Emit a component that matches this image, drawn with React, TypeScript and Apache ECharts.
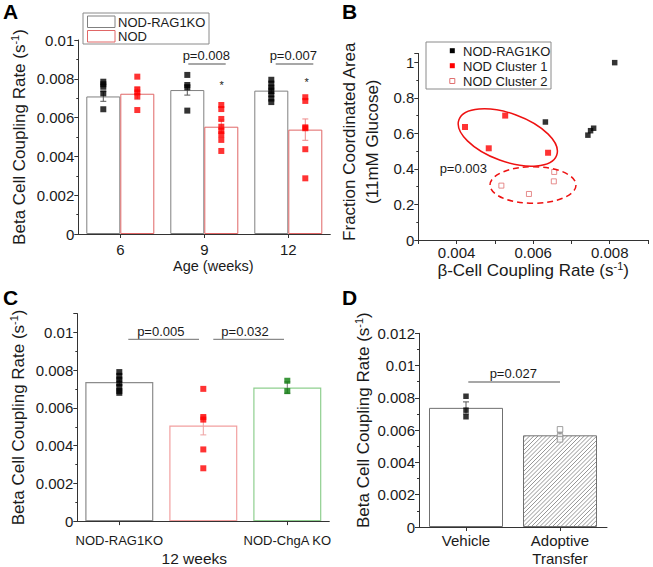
import React, { useEffect, useRef } from 'react';
import * as echarts from 'echarts';

const FONT = '"Liberation Sans", Arial, Helvetica, sans-serif';

// ---------- Panel A ----------
const ageCategories = ['6', '9', '12'];
const ragMeansA = [0.00709, 0.00742, 0.00739];
const ragSemA = [0.00025, 0.00026, 0.00015];
const nodMeansA = [0.00723, 0.00553, 0.00538];
const nodSemA = [0.0003, 0.00035, 0.00055];
const ragPointsA = [
  [0.00785, 0.00772, 0.00759, 0.00725, 0.00643],
  [0.0082, 0.00768, 0.00756, 0.00636],
  [0.00795, 0.00775, 0.00755, 0.00738, 0.0072, 0.00698, 0.0068],
];
const nodPointsA = [
  [0.00811, 0.00746, 0.0073, 0.00711, 0.00639],
  [0.00665, 0.00644, 0.00593, 0.00553, 0.00532, 0.00514, 0.00485, 0.00428],
  [0.00705, 0.00686, 0.0055, 0.00545, 0.00437, 0.00287],
];

// ---------- Panel B ----------
const ragB = [[0.00632, 0.664], [0.00743, 0.59], [0.0075, 0.615], [0.00758, 0.629], [0.00813, 0.998]];
const nodCluster1B = [[0.00422, 0.636], [0.00484, 0.516], [0.00527, 0.7], [0.00639, 0.491]];
const nodCluster2B = [[0.00517, 0.306], [0.00589, 0.259], [0.00655, 0.383], [0.00654, 0.33]];

// ---------- Panel C ----------
const groupsC = ['NOD-RAG1KO', 'NOD', 'NOD-ChgA KO'];
const meansC = [0.00737, 0.00507, 0.00708];
const semC = [0.00015, 0.0005, 0.0003];
const pointsC = [
  [0.0079, 0.0077, 0.0075, 0.0073, 0.0071, 0.0069, 0.0068],
  [0.00701, 0.00552, 0.00538, 0.0038, 0.0028],
  [0.00744, 0.00689],
];

// ---------- Panel D ----------
const groupsD = ['Vehicle', 'Adoptive\nTransfer'];
const meansD = [0.00738, 0.00568];
const semD = [0.00037, 0.00015];
const pointsD = [
  [0.0081, 0.00724, 0.00683],
  [0.00605, 0.0056, 0.00543],
];

const AXIS_COLOR = '#333';
const TEXT_COLOR = '#1a1a1a';

const BAR_W_A = 34;
const BAR_W_C = 68;
const BAR_W_D = 74;

const TICK_FS = 15;
const NAME_FS = 17;
const NOTE_FS = 13;

const cBorders = ['#8c8c8c', '#f2a0a0', '#8fcf8f'];
const cPointColors = ['#000000', '#ff0000', '#0a7d0a'];
const cErrColors = ['#555555', '#eea0a0', '#777777'];

function supName(text: string) {
  return text + '{s|-1})';
}

function nameStyle(extra: any = {}) {
  return {
    fontFamily: FONT,
    fontSize: NAME_FS,
    color: TEXT_COLOR,
    lineHeight: 20,
    rich: {
      s: { fontFamily: FONT, fontSize: 11, color: TEXT_COLOR, verticalAlign: 'top', lineHeight: 9 },
    },
    ...extra,
  };
}

function yAxisBase(gridIndex: number, max: number, interval: number, extra: any = {}) {
  return {
    type: 'value',
    gridIndex,
    min: 0,
    max,
    interval,
    axisLine: { show: true, lineStyle: { color: AXIS_COLOR, width: 1 } },
    axisTick: { show: true, length: 4, lineStyle: { color: AXIS_COLOR } },
    minorTick: { show: true, splitNumber: 2, length: 2, lineStyle: { color: AXIS_COLOR } },
    splitLine: { show: false },
    axisLabel: {
      color: TEXT_COLOR,
      fontFamily: FONT,
      fontSize: TICK_FS,
      margin: 4,
      formatter: (v: number) => {
        const k = v / interval;
        if (Math.abs(k - Math.round(k)) > 1e-6) return '';
        return String(parseFloat(v.toFixed(4)));
      },
    },
    nameLocation: 'middle',
    ...extra,
  };
}

function catAxis(gridIndex: number, data: string[], fontSize: number, margin: number, extra: any = {}) {
  return {
    type: 'category',
    gridIndex,
    data,
    axisLine: { show: true, lineStyle: { color: AXIS_COLOR, width: 1 } },
    axisTick: { show: true, alignWithLabel: true, length: 4, lineStyle: { color: AXIS_COLOR } },
    axisLabel: { color: TEXT_COLOR, fontFamily: FONT, fontSize, margin, lineHeight: 18 },
    splitLine: { show: false },
    nameLocation: 'middle',
    ...extra,
  };
}

function errorSeries(xi: number, means: number[], sems: number[], offset: number, colors: string[], half = 3) {
  return {
    type: 'custom',
    xAxisIndex: xi,
    yAxisIndex: xi,
    z: 4,
    data: means.map((m, i) => [i, m, sems[i]]),
    encode: { x: 0, y: 1 },
    renderItem: (params: any, api: any) => {
      const i = api.value(0);
      const m = api.value(1);
      const e = api.value(2);
      const p1 = api.coord([i, m + e]);
      const p2 = api.coord([i, m - e]);
      const cx = p1[0] + offset;
      const style = { stroke: colors[i % colors.length], lineWidth: 1 };
      return {
        type: 'group',
        children: [
          { type: 'line', shape: { x1: cx, y1: p1[1], x2: cx, y2: p2[1] }, style },
          { type: 'line', shape: { x1: cx - half, y1: p1[1], x2: cx + half, y2: p1[1] }, style },
          { type: 'line', shape: { x1: cx - half, y1: p2[1], x2: cx + half, y2: p2[1] }, style },
        ],
      };
    },
  };
}

function txt(text: string, x: number, y: number, size = NOTE_FS, align = 'center', extra: any = {}) {
  return {
    type: 'text',
    z: 100,
    x,
    y,
    style: {
      text,
      font: `${size}px ${FONT}`,
      fill: TEXT_COLOR,
      textAlign: align,
      textVerticalAlign: 'middle',
      ...extra,
    },
  };
}

function hline(x1: number, x2: number, y: number) {
  return {
    type: 'line',
    z: 100,
    shape: { x1, y1: y, x2, y2: y },
    style: { stroke: '#8a8a8a', lineWidth: 1.3 },
  };
}

function buildOption() {
  const grids = [
    { left: 78.3, top: 40, width: 252, height: 194 },
    { left: 418.3, top: 53.4, width: 229.7, height: 186.6 },
    { left: 77.3, top: 313.6, width: 252, height: 213.4 },
    { left: 419, top: 333.3, width: 188, height: 195 },
  ];

  const xAxes = [
    catAxis(0, ageCategories, TICK_FS, 6, {
      name: 'Age (weeks)',
      nameGap: 22,
      nameTextStyle: { fontFamily: FONT, fontSize: 14.5, color: TEXT_COLOR, padding: [0, 0, 0, 18] },
    }),
    {
      type: 'value',
      gridIndex: 1,
      min: 0.003,
      max: 0.009,
      interval: 0.001,
      axisLine: { show: true, lineStyle: { color: AXIS_COLOR, width: 1 } },
      axisTick: { show: true, length: 4, lineStyle: { color: AXIS_COLOR } },
      splitLine: { show: false },
      axisLabel: {
        color: TEXT_COLOR,
        fontFamily: FONT,
        fontSize: TICK_FS,
        margin: 5,
        formatter: (v: number) => {
          const k = Math.round(v * 1000);
          if (k % 2 !== 0 || k < 4 || k > 8) return '';
          return v.toFixed(3);
        },
      },
      name: supName('β-Cell Coupling Rate (s'),
      nameLocation: 'middle',
      nameGap: 20,
      nameTextStyle: nameStyle(),
    },
    catAxis(2, groupsC, 13, 10, {
      name: '12 weeks',
      nameGap: 21,
      nameTextStyle: { fontFamily: FONT, fontSize: 15.5, color: TEXT_COLOR, padding: [0, 18, 0, 0] },
    }),
    catAxis(3, groupsD, 15, 4),
  ];

  const yAxes = [
    yAxisBase(0, 0.01, 0.002, {
      name: supName('Beta Cell Coupling Rate (s'),
      nameGap: 49,
      nameTextStyle: nameStyle(),
    }),
    yAxisBase(1, 1.05, 0.2, {
      name: 'Fraction Coordinated Area\n(11mM Glucose)',
      nameGap: 34,
      nameTextStyle: nameStyle({ lineHeight: 23, padding: [0, 0, 0, 10] }),
    }),
    yAxisBase(2, 0.011, 0.002, {
      name: supName('Beta Cell Coupling Rate (s'),
      nameGap: 49,
      nameTextStyle: nameStyle(),
    }),
    yAxisBase(3, 0.012, 0.002, {
      name: supName('Beta Cell Coupling Rate (s'),
      nameGap: 46,
      nameTextStyle: nameStyle({ padding: [0, 0, 0, 20] }),
    }),
  ];

  const series: any[] = [
    // ---- A bars ----
    {
      type: 'bar',
      name: 'NOD-RAG1KO',
      xAxisIndex: 0,
      yAxisIndex: 0,
      data: ragMeansA,
      barWidth: BAR_W_A,
      barGap: '0%',
      z: 2,
      itemStyle: { color: '#ffffff', borderColor: '#808080', borderWidth: 1 },
    },
    {
      type: 'bar',
      name: 'NOD',
      xAxisIndex: 0,
      yAxisIndex: 0,
      data: nodMeansA,
      barWidth: BAR_W_A,
      barGap: '0%',
      z: 2,
      itemStyle: { color: '#ffffff', borderColor: '#e06666', borderWidth: 1 },
    },
    errorSeries(0, ragMeansA, ragSemA, -BAR_W_A / 2, ['#555555']),
    errorSeries(0, nodMeansA, nodSemA, BAR_W_A / 2, ['#ee8888']),
    {
      type: 'scatter',
      name: 'NOD-RAG1KO points',
      xAxisIndex: 0,
      yAxisIndex: 0,
      z: 5,
      symbol: 'rect',
      symbolSize: 6,
      symbolOffset: [-BAR_W_A / 2, 0],
      itemStyle: { color: '#000000' },
      data: ragPointsA.flatMap((arr, i) => arr.map((v) => [i, v])),
    },
    {
      type: 'scatter',
      name: 'NOD points',
      xAxisIndex: 0,
      yAxisIndex: 0,
      z: 5,
      symbol: 'rect',
      symbolSize: 6,
      symbolOffset: [BAR_W_A / 2, 0],
      itemStyle: { color: '#ff0000' },
      data: nodPointsA.flatMap((arr, i) => arr.map((v) => [i, v])),
    },
    // ---- B scatter ----
    {
      type: 'scatter',
      name: 'NOD-RAG1KO (B)',
      xAxisIndex: 1,
      yAxisIndex: 1,
      z: 5,
      symbol: 'rect',
      symbolSize: 5.5,
      itemStyle: { color: '#000000' },
      data: ragB,
    },
    {
      type: 'scatter',
      name: 'NOD Cluster 1',
      xAxisIndex: 1,
      yAxisIndex: 1,
      z: 5,
      symbol: 'rect',
      symbolSize: 6,
      itemStyle: { color: '#ff0000' },
      data: nodCluster1B,
    },
    {
      type: 'scatter',
      name: 'NOD Cluster 2',
      xAxisIndex: 1,
      yAxisIndex: 1,
      z: 5,
      symbol: 'rect',
      symbolSize: 5,
      itemStyle: { color: '#ffffff', borderColor: '#e07070', borderWidth: 1 },
      data: nodCluster2B,
    },
    // ---- C ----
    {
      type: 'bar',
      name: 'C bars',
      xAxisIndex: 2,
      yAxisIndex: 2,
      z: 2,
      barWidth: BAR_W_C,
      data: meansC.map((v, i) => ({
        value: v,
        itemStyle: { color: '#ffffff', borderColor: cBorders[i], borderWidth: 1.2 },
      })),
    },
    errorSeries(2, meansC, semC, 0, cErrColors),
    {
      type: 'scatter',
      name: 'C points',
      xAxisIndex: 2,
      yAxisIndex: 2,
      z: 5,
      symbol: 'rect',
      symbolSize: 6,
      data: pointsC.flatMap((arr, i) =>
        arr.map((v) => ({ value: [i, v], itemStyle: { color: cPointColors[i] } }))
      ),
    },
    // ---- D ----
    {
      type: 'bar',
      name: 'D bars',
      xAxisIndex: 3,
      yAxisIndex: 3,
      z: 2,
      barWidth: BAR_W_D,
      data: meansD,
      itemStyle: { color: '#ffffff', borderColor: '#707070', borderWidth: 1 },
    },
    {
      type: 'custom',
      name: 'D hatch',
      xAxisIndex: 3,
      yAxisIndex: 3,
      z: 3,
      data: meansD.map((m, i) => [i, m]).filter((d) => d[0] === 1),
      encode: { x: 0, y: 1 },
      renderItem: (params: any, api: any) => {
        const i = api.value(0);
        const v = api.value(1);
        const top = api.coord([i, v]);
        const base = api.coord([i, 0]);
        const half = BAR_W_D / 2 - 0.5;
        const x0 = top[0] - half;
        const x1 = top[0] + half;
        const y0 = top[1] + 0.5;
        const y1 = base[1] - 0.5;
        const step = 4.2;
        const children: any[] = [];
        for (let c = x0 + y0 + step / 2; c < x1 + y1; c += step) {
          const xa = Math.max(x0, c - y1);
          const xb = Math.min(x1, c - y0);
          if (xb > xa) {
            children.push({
              type: 'line',
              shape: { x1: xa, y1: c - xa, x2: xb, y2: c - xb },
              style: { stroke: '#7a7a7a', lineWidth: 0.8 },
            });
          }
        }
        return { type: 'group', children };
      },
    },
    errorSeries(3, meansD, semD, 0, ['#555555', '#777777']),
    {
      type: 'scatter',
      name: 'D points',
      xAxisIndex: 3,
      yAxisIndex: 3,
      z: 5,
      symbol: 'rect',
      symbolSize: 5.5,
      data: pointsD.flatMap((arr, i) =>
        arr.map((v) => ({
          value: [i, v],
          itemStyle:
            i === 0
              ? { color: '#000000' }
              : { color: '#ffffff', borderColor: '#8a8a8a', borderWidth: 1 },
        }))
      ),
    },
  ];

  const bold = { font: `bold 21px ${FONT}`, fill: '#000' };
  const graphic: any[] = [
    // panel letters
    txt('A', 3, 11, 21, 'left', bold),
    txt('B', 342, 11, 21, 'left', bold),
    txt('C', 3, 297, 21, 'left', bold),
    txt('D', 342, 297, 21, 'left', bold),

    // legend A
    {
      type: 'rect',
      z: 99,
      shape: { x: 83, y: 13, width: 126, height: 31 },
      style: { fill: '#ffffff', stroke: '#8a8a8a', lineWidth: 1 },
    },
    {
      type: 'rect',
      z: 100,
      shape: { x: 87.5, y: 16, width: 27.5, height: 11.5 },
      style: { fill: '#ffffff', stroke: '#808080', lineWidth: 1 },
    },
    {
      type: 'rect',
      z: 100,
      shape: { x: 87.5, y: 30.5, width: 27.5, height: 11.5 },
      style: { fill: '#ffffff', stroke: '#e06666', lineWidth: 1 },
    },
    txt('NOD-RAG1KO', 118, 22, NOTE_FS, 'left'),
    txt('NOD', 118, 36.5, NOTE_FS, 'left'),

    // A annotations
    txt('p=0.008', 206.3, 55),
    hline(188.3, 225.7, 64),
    txt('p=0.007', 293.3, 55),
    hline(275.7, 313.3, 64),
    txt('*', 221.7, 85, 11),
    txt('*', 306.7, 82, 11),

    // legend B
    {
      type: 'rect',
      z: 99,
      shape: { x: 426, y: 42, width: 125, height: 47 },
      style: { fill: '#ffffff', stroke: '#8a8a8a', lineWidth: 1 },
    },
    {
      type: 'rect',
      z: 100,
      shape: { x: 449.8, y: 48.2, width: 5, height: 5 },
      style: { fill: '#000000' },
    },
    {
      type: 'rect',
      z: 100,
      shape: { x: 449.8, y: 63.2, width: 5, height: 5 },
      style: { fill: '#ff0000' },
    },
    {
      type: 'rect',
      z: 100,
      shape: { x: 449.8, y: 78.5, width: 5, height: 5 },
      style: { fill: '#ffffff', stroke: '#e07070', lineWidth: 1 },
    },
    txt('NOD-RAG1KO', 463, 51, NOTE_FS, 'left'),
    txt('NOD Cluster 1', 463, 66, NOTE_FS, 'left'),
    txt('NOD Cluster 2', 463, 81, NOTE_FS, 'left'),

    // B ellipses and p
    {
      type: 'ellipse',
      z: 90,
      x: 507.8,
      y: 137.5,
      rotation: (-20 * Math.PI) / 180,
      shape: { cx: 0, cy: 0, rx: 52, ry: 24 },
      style: { fill: 'none', stroke: '#ee1111', lineWidth: 1.5 },
    },
    {
      type: 'ellipse',
      z: 90,
      shape: { cx: 533, cy: 185, rx: 43, ry: 18.3 },
      style: { fill: 'none', stroke: '#ee1111', lineWidth: 1.5, lineDash: [6, 4] },
    },
    txt('p=0.003', 463.3, 168.3),

    // C annotations
    txt('p=0.005', 160.8, 331.7),
    hline(128.3, 199, 339.3),
    txt('p=0.032', 245, 331.7),
    hline(213.3, 284, 339.3),

    // D annotations
    txt('p=0.027', 513.3, 373.3),
    hline(468.3, 560, 382),
  ];

  return {
    animation: false,
    backgroundColor: '#ffffff',
    textStyle: { fontFamily: FONT },
    grid: grids,
    xAxis: xAxes,
    yAxis: yAxes,
    series,
    graphic,
  };
}

export default function App() {
  const ref = useRef<HTMLDivElement>(null);
  useEffect(() => {
    if (!ref.current) return;
    const chart = echarts.init(ref.current, undefined, { renderer: 'svg' });
    chart.setOption(buildOption() as any);
    return () => {
      chart.dispose();
    };
  }, []);
  return (
    <div
      ref={ref}
      style={{ position: 'absolute', left: 0, top: 0, width: 653, height: 567, background: '#fff' }}
    />
  );
}
